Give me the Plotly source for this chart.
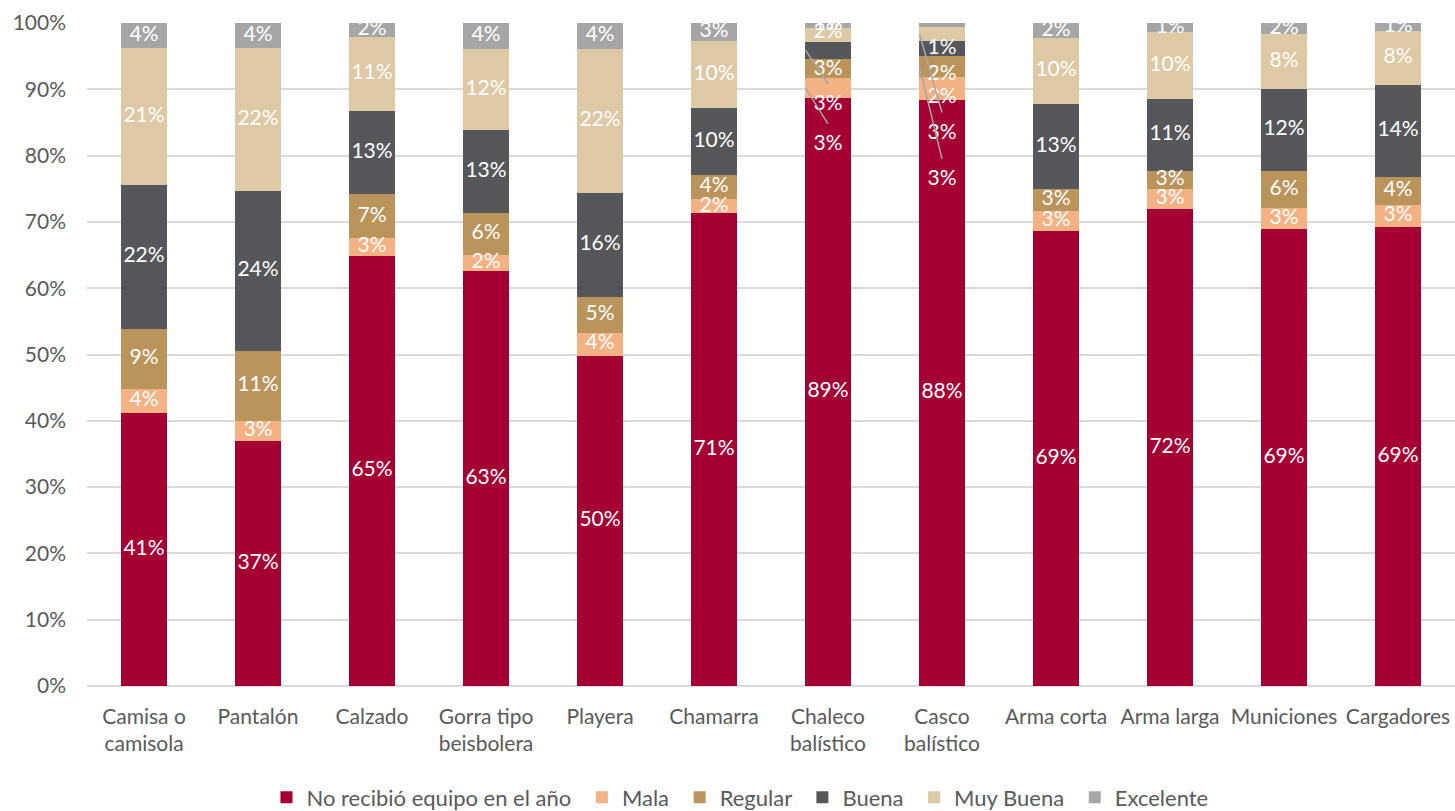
import plotly.graph_objects as go

categories = ["Camisa o<br>camisola", "Pantalón", "Calzado", "Gorra tipo<br>beisbolera",
              "Playera", "Chamarra", "Chaleco<br>balístico", "Casco<br>balístico",
              "Arma corta", "Arma larga", "Municiones", "Cargadores"]

series_names = ["No recibió equipo en el año", "Mala", "Regular", "Buena", "Muy Buena", "Excelente"]

no_recibio = [41.2, 37.0, 64.9, 62.6, 49.8, 71.3, 88.7, 88.4, 68.6, 71.9, 68.9, 69.2]
mala       = [3.6, 3.0, 2.6, 2.4, 3.5, 2.1, 3.0, 3.4, 3.0, 3.1, 3.2, 3.4]
regular    = [9.0, 10.6, 6.7, 6.3, 5.4, 3.7, 2.9, 3.2, 3.4, 2.7, 5.6, 4.2]
buena      = [21.8, 24.0, 12.6, 12.6, 15.7, 10.1, 2.6, 2.3, 12.8, 10.8, 12.3, 13.8]
muy_buena  = [20.6, 21.6, 11.1, 12.2, 21.7, 10.1, 2.1, 2.1, 9.9, 10.1, 8.3, 8.2]
excelente  = [3.8, 3.8, 2.1, 3.9, 3.9, 2.7, 0.7, 0.6, 2.3, 1.4, 1.7, 1.2]

series_values = [no_recibio, mala, regular, buena, muy_buena, excelente]
colors = ["#A50034", "#F4B183", "#BB945C", "#55575B", "#DDC9A3", "#A6A6A6"]

# Label placement overrides (Excel moved crowded labels), in axis %
label_override = {
    6: {"Excelente": 99.8, "Muy Buena": 98.5, "Buena": 92.9, "Regular": 87.6, "Mala": 81.6},
    7: {"Excelente": 96.1, "Muy Buena": 92.2, "Buena": 88.8, "Regular": 83.3, "Mala": 76.3},
}
# leader lines: (category index, segment where line starts, label it points to)
leader_lines = [(6, "Buena", "Regular"), (6, "Mala", "Mala"),
                (7, "Muy Buena", "Regular"), (7, "Regular", "Mala")]

FONT = "Lato"
TXT = "#595959"
BAR_W = 0.395

fig = go.Figure()
cum = [0.0] * len(categories)
mids = {}
for name, vals, col in zip(series_names, series_values, colors):
    fig.add_trace(go.Bar(name=name + " ", x=list(range(len(categories))), y=vals,
                         marker=dict(color=col, line=dict(width=0)),
                         width=BAR_W, hoverinfo="y"))
    mids[name] = [c + v / 2 for c, v in zip(cum, vals)]
    cum = [c + v for c, v in zip(cum, vals)]

# data labels
lab_x, lab_y, lab_t = [], [], []
label_pos = {}
for name, vals in zip(series_names, series_values):
    for i, v in enumerate(vals):
        y = mids[name][i]
        if i in label_override and name in label_override[i]:
            y = label_override[i][name]
        label_pos[(i, name)] = y
        lab_x.append(i)
        lab_y.append(y)
        lab_t.append(f"{v:.0f}%")

# leader lines
for i, start, target in leader_lines:
    fig.add_shape(type="line", xref="x", yref="y",
                  x0=i - BAR_W / 2, y0=mids[start][i],
                  x1=i, y1=label_pos[(i, target)] + 3.2,
                  line=dict(color="#A6A6A6", width=1.5))

fig.add_trace(go.Scatter(x=lab_x, y=lab_y, text=lab_t, mode="text",
                         textposition="middle center",
                         textfont=dict(family=FONT, size=21, color="white"),
                         showlegend=False, hoverinfo="skip", cliponaxis=True))

fig.update_layout(
    barmode="stack",
    width=1455, height=811,
    margin=dict(l=87, r=0, t=23, b=125, autoexpand=False),
    plot_bgcolor="white", paper_bgcolor="white",
    font=dict(family=FONT, size=21, color=TXT),
    legend=dict(orientation="h", x=0.4795, xanchor="center", y=-0.168, yanchor="middle",
                font=dict(family=FONT, size=22, color=TXT), traceorder="normal",
                itemwidth=30),
    xaxis=dict(tickmode="array", tickvals=list(range(len(categories))), ticktext=categories,
               range=[-0.5, len(categories) - 0.5], showgrid=False, zeroline=False,
               showline=False, tickfont=dict(family=FONT, size=21, color=TXT), ticks="",
               ticklabelstandoff=16, automargin=False),
    yaxis=dict(range=[0, 100], dtick=10, ticksuffix="%", showgrid=True,
               gridcolor="#D9D9D9", gridwidth=1.5, zeroline=True, zerolinecolor="#D9D9D9",
               zerolinewidth=1.5, showline=False, ticks="", ticklabelstandoff=20,
               tickfont=dict(family=FONT, size=21, color=TXT), automargin=False),
)

fig.write_html("out.html", config={"displayModeBar": False},
               post_script="document.body.style.margin='0px';document.body.style.overflow='hidden';")
